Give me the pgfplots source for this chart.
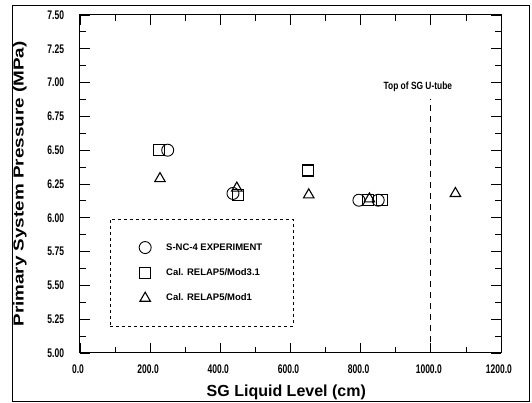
\documentclass[border=0pt]{standalone}
\usepackage{fontspec}
\setmainfont{Liberation Sans}
\usepackage{pgfplots}
\pgfplotsset{compat=1.18}
\begin{document}
\begin{tikzpicture}[x=1pt,y=1pt]
\path[use as bounding box] (-80,-50) rectangle (452,353);
\draw[line width=0.8pt] (-68,-48) rectangle (449,348);
\begin{axis}[
  at={(0,0)}, anchor=origin,
  scale only axis, width=421pt, height=338pt,
  xmin=0, xmax=1200, ymin=5, ymax=7.5,
  xtick distance=200, minor x tick num=1,
  ytick distance=0.25, minor y tick num=1,
  tick align=inside, major tick length=10pt, minor tick length=6pt,
  every tick/.style={black, line width=0.8pt},
  axis line style={line width=1pt},
  /pgf/number format/assume math mode=true,
  xticklabel={\pgfmathprintnumber[fixed,fixed zerofill,precision=1,1000 sep={}]{\tick}},
  yticklabel={\pgfmathprintnumber[fixed,fixed zerofill,precision=2]{\tick}},
  tick label style={font=\fontsize{12.5}{13}\selectfont\bfseries, xscale=0.68},
  xticklabel style={yshift=-8pt, xshift=-3pt},
  yticklabel style={xshift=-20pt},
  xlabel={SG Liquid Level (cm)},
  ylabel={Primary System Pressure (MPa)},
  xlabel style={font=\fontsize{16}{18}\selectfont\bfseries, at={(axis description cs:0.49,0)}, anchor=center, yshift=-39pt},
  ylabel style={font=\fontsize{14.5}{16}\selectfont\bfseries, at={(axis description cs:0,0.5)}, anchor=center, yshift=60pt, xscale=1.3},
  legend style={draw, dashed, line width=0.7pt, at={(axis cs:85,5.99)}, anchor=north west,
    inner xsep=29pt, inner ysep=22pt, row sep=13pt,
    font=\fontsize{9.5}{11}\selectfont\bfseries, cells={anchor=west}, column sep=13pt},
  legend image code/.code={\draw[solid] plot coordinates {(0.3cm,0cm)};},
  clip=false,
]
\addplot[only marks, mark=o, mark size=6pt, line width=0.9pt, mark options={solid}] coordinates {
(250,6.50) (436,6.18) (795,6.13) (850,6.13)};
\addlegendentry{S-NC-4 EXPERIMENT}
\addplot[only marks, mark=square, mark size=5.5pt, line width=1.1pt, mark options={solid}] coordinates {
(225,6.50) (450,6.17) (650,6.35) (820,6.13) (862,6.13)};
\addlegendentry{Cal. RELAP5/Mod3.1}
\addplot[only marks, mark=triangle, mark size=6pt, line width=1.1pt, mark options={solid}] coordinates {
(228,6.29) (447,6.22) (652,6.17) (825,6.14) (1070,6.18)};
\addlegendentry{Cal. RELAP5/Mod1}
\addplot[forget plot, dash pattern=on 6pt off 5pt, line width=0.9pt] coordinates {(1000,5.0) (1000,6.88)};
\node[font=\fontsize{10.5}{11}\selectfont\bfseries, xscale=0.8] at (axis cs:963,6.97) {Top of SG U-tube};
\end{axis}
\end{tikzpicture}
\end{document}
